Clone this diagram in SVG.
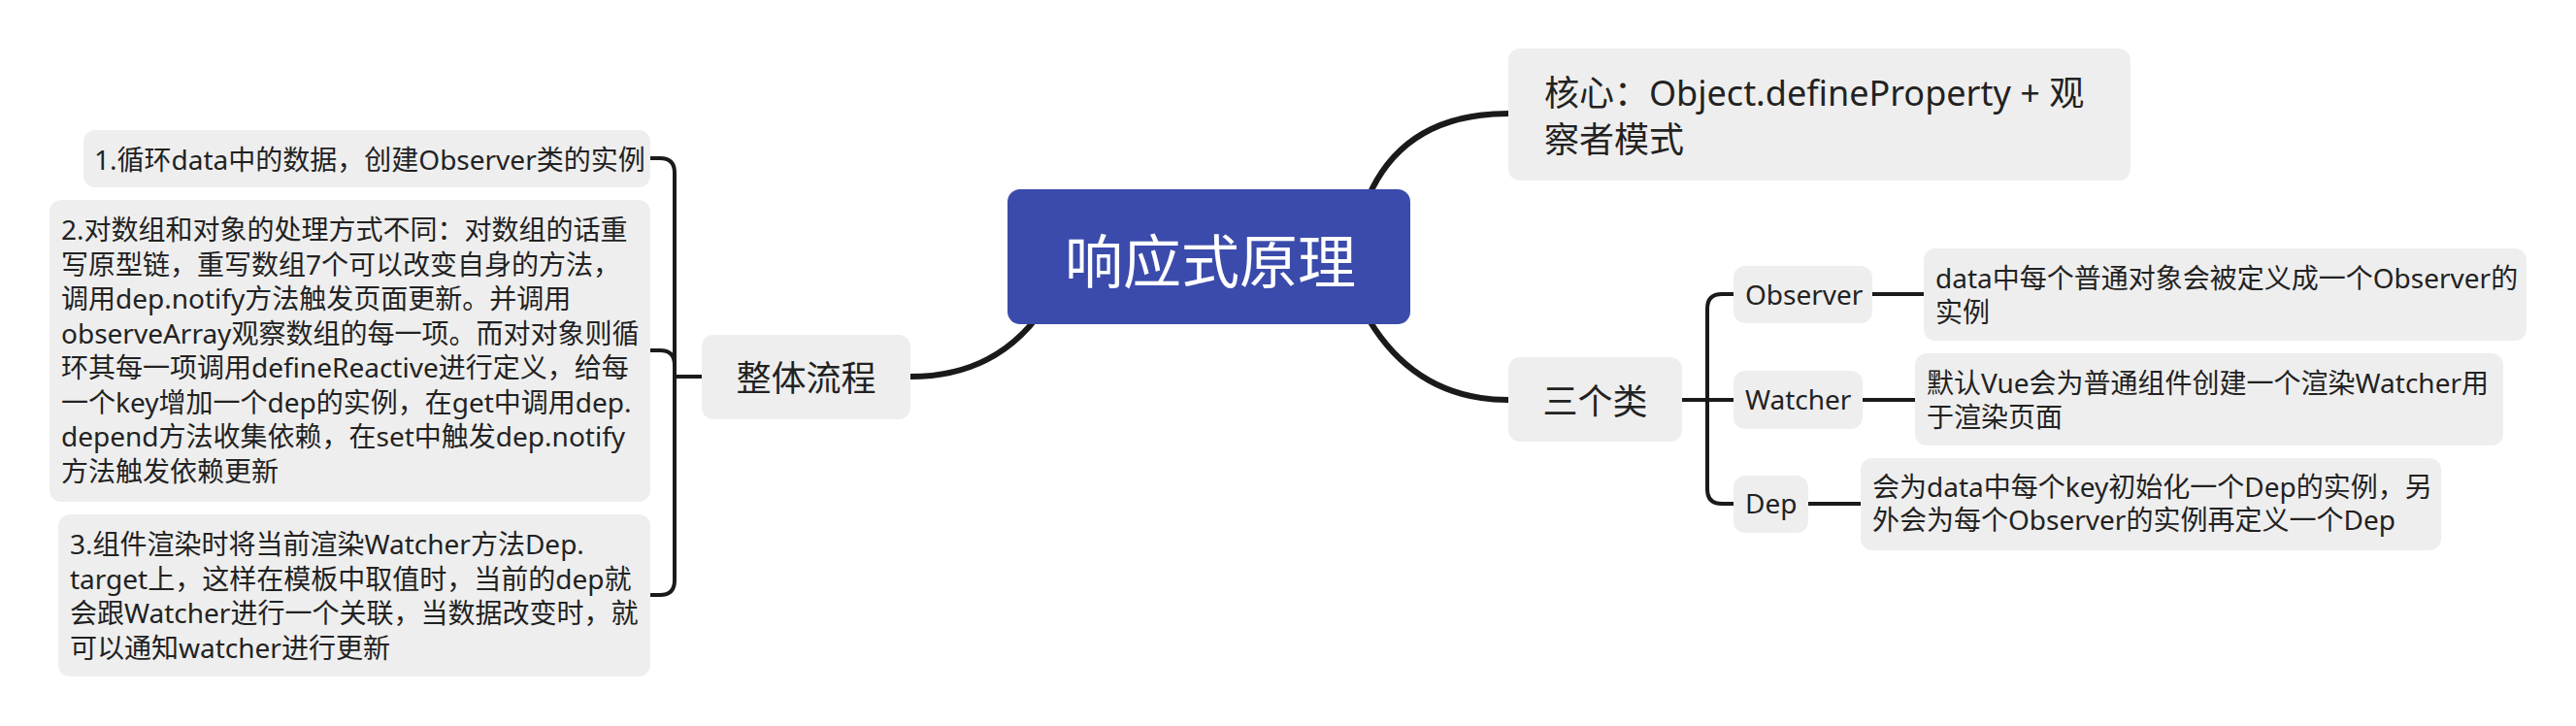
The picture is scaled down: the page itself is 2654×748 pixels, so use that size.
<svg xmlns="http://www.w3.org/2000/svg" width="2654" height="748" viewBox="0 0 2654 748">
<style>
.n{fill:#eeeeee}
.t{font-family:"Noto Sans","Noto Sans CJK SC",sans-serif;font-size:28px;fill:#222222}
.t36{font-family:"Noto Sans","Noto Sans CJK SC",sans-serif;font-size:36px;fill:#222222}
.main{fill:none;stroke:#1a1a1a;stroke-width:6;stroke-linecap:round}
.br{fill:none;stroke:#1a1a1a;stroke-width:4}
</style>
<rect width="2654" height="748" fill="#ffffff"/>
<g id="connectors">
<path class="main" d="M 938 388 Q 1035 388 1083 305"/>
<path class="main" d="M 1554 412 Q 1455 412 1405 320"/>
<path class="main" d="M 1554 117 Q 1440 117 1405 215"/>
<path class="br" d="M 670 163 L 680 163 Q 695 163 695 178 L 695 598 Q 695 613 680 613 L 670 613"/>
<path class="br" d="M 670 361 L 680 361 Q 695 361 695 376"/>
<path class="br" d="M 695 388 L 723 388"/>
<path class="br" d="M 1733 412 L 1786 412"/>
<path class="br" d="M 1786 303 L 1774 303 Q 1759 303 1759 318 L 1759 504 Q 1759 519 1774 519 L 1786 519"/>
<path class="br" d="M 1929 303 L 1982 303"/>
<path class="br" d="M 1919 412 L 1973 412"/>
<path class="br" d="M 1863 519 L 1917 519"/>
</g>
<g id="root">
<rect x="1038" y="195" width="415" height="139" rx="13" fill="#3a4bab"/>
<text x="1247" y="292" text-anchor="middle" font-family="'Noto Sans CJK SC',sans-serif" font-size="60" fill="#ffffff">响应式原理</text>
</g>
<g id="flow">
<rect class="n" x="723" y="345" width="215" height="87" rx="12"/>
<text class="t36" x="830.5" y="403" text-anchor="middle">整体流程</text>
</g>
<g id="step1">
<rect class="n" x="86" y="134" width="584" height="59" rx="12"/>
<text class="t" x="97" y="175">1.循环data中的数据，创建Observer类的实例</text>
</g>
<g id="step2">
<rect class="n" x="51" y="206" width="619" height="311" rx="12"/>
<text class="t" x="63" y="247">2.对数组和对象的处理方式不同：对数组的话重</text>
<text class="t" x="63" y="282.5">写原型链，重写数组7个可以改变自身的方法，</text>
<text class="t" x="63" y="318">调用dep.notify方法触发页面更新。并调用</text>
<text class="t" x="63" y="353.5">observeArray观察数组的每一项。而对对象则循</text>
<text class="t" x="63" y="389">环其每一项调用defineReactive进行定义，给每</text>
<text class="t" x="63" y="424.5">一个key增加一个dep的实例，在get中调用dep.</text>
<text class="t" x="63" y="460">depend方法收集依赖，在set中触发dep.notify</text>
<text class="t" x="63" y="495.5">方法触发依赖更新</text>
</g>
<g id="step3">
<rect class="n" x="60" y="530" width="610" height="167" rx="12"/>
<text class="t" x="72" y="571">3.组件渲染时将当前渲染Watcher方法Dep.</text>
<text class="t" x="72" y="606.5">target上，这样在模板中取值时，当前的dep就</text>
<text class="t" x="72" y="642">会跟Watcher进行一个关联，当数据改变时，就</text>
<text class="t" x="72" y="677.5">可以通知watcher进行更新</text>
</g>
<g id="core">
<rect class="n" x="1554" y="50" width="641" height="136" rx="12"/>
<text class="t36" x="1591" y="109">核心：Object.defineProperty + 观</text>
<text class="t36" x="1591" y="157">察者模式</text>
</g>
<g id="classes">
<rect class="n" x="1554" y="368" width="179" height="87" rx="12"/>
<text class="t36" x="1643.5" y="427" text-anchor="middle">三个类</text>
</g>
<g id="observer">
<rect class="n" x="1786" y="274" width="143" height="59" rx="12"/>
<text class="t" x="1798" y="314">Observer</text>
</g>
<g id="watcher">
<rect class="n" x="1786" y="382" width="133" height="60" rx="12"/>
<text class="t" x="1798" y="422">Watcher</text>
</g>
<g id="dep">
<rect class="n" x="1786" y="490" width="77" height="59" rx="12"/>
<text class="t" x="1798" y="529">Dep</text>
</g>
<g id="observer-desc">
<rect class="n" x="1982" y="256" width="621" height="95" rx="12"/>
<text class="t" x="1994" y="297">data中每个普通对象会被定义成一个Observer的</text>
<text class="t" x="1994" y="332">实例</text>
</g>
<g id="watcher-desc">
<rect class="n" x="1973" y="364" width="606" height="95" rx="12"/>
<text class="t" x="1985" y="405">默认Vue会为普通组件创建一个渲染Watcher用</text>
<text class="t" x="1985" y="440">于渲染页面</text>
</g>
<g id="dep-desc">
<rect class="n" x="1917" y="472" width="598" height="95" rx="12"/>
<text class="t" x="1929" y="512">会为data中每个key初始化一个Dep的实例，另</text>
<text class="t" x="1929" y="546">外会为每个Observer的实例再定义一个Dep</text>
</g>
</svg>
